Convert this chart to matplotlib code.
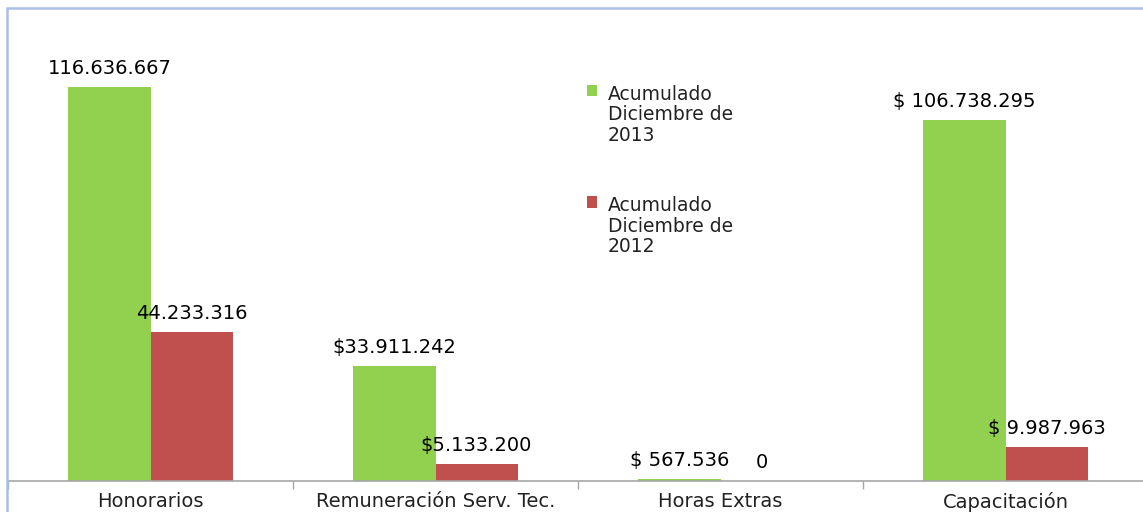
"""Acumulado diciembre 2013 vs 2012 por concepto: barras agrupadas."""

import matplotlib.pyplot as plt
import numpy as np
from matplotlib.patches import Rectangle

categories = ["Honorarios", "Remuneración Serv. Tec.", "Horas Extras", "Capacitación"]
values_2013 = [116636667, 33911242, 567536, 106738295]
values_2012 = [44233316, 5133200, 0, 9987963]
labels_2013 = ["116.636.667", "$33.911.242", "$ 567.536", "$ 106.738.295"]
labels_2012 = ["44.233.316", "$5.133.200", "0", "$ 9.987.963"]
series_names = ["Acumulado\nDiciembre de\n2013", "Acumulado\nDiciembre de\n2012"]

GREEN = "#92D050"
RED = "#C0504D"

W, H = 1143, 512
fig = plt.figure(figsize=(W / 100, H / 100), dpi=100)
ax = fig.add_axes([8 / W, 31 / H, 1140 / W, 473 / H])

x = np.arange(len(categories))
bw = 0.288
bars_a = ax.bar(x - bw, values_2013, width=bw, align="edge", color=GREEN,
                label=series_names[0], zorder=2)
bars_b = ax.bar(x, values_2012, width=bw, align="edge", color=RED,
                label=series_names[1], zorder=2)

label_font = dict(family="DejaVu Sans", fontsize=14, color="black")
for bars, labels in ((bars_a, labels_2013), (bars_b, labels_2012)):
    for rect, txt in zip(bars, labels):
        ax.annotate(txt, (rect.get_x() + rect.get_width() / 2, rect.get_height()),
                    xytext=(0, 9), textcoords="offset pixels",
                    ha="center", va="bottom", **label_font)

ax.set_xlim(-0.5, len(categories) - 0.5)
ax.set_ylim(0, 140e6)
ax.set_yticks([])
for side in ("left", "right", "top"):
    ax.spines[side].set_visible(False)
ax.spines["bottom"].set_color("#A6A6A6")
ax.spines["bottom"].set_linewidth(1.2)

ax.set_xticks(x)
ax.set_xticklabels(categories, family="DejaVu Sans", fontsize=14, color="#222222")
ax.tick_params(axis="x", which="major", length=0, pad=8)
ax.set_xticks(np.arange(len(categories) + 1) - 0.5, minor=True)
ax.tick_params(axis="x", which="minor", length=6, color="#A6A6A6", width=1)

leg = ax.legend(loc="upper left", bbox_to_anchor=(570 / W, 1 - 68 / H),
                bbox_transform=fig.transFigure, frameon=False,
                prop={"family": "DejaVu Sans", "size": 13.5},
                handlelength=0.55, handleheight=0.55, handletextpad=0.55,
                labelspacing=2.75)
for t in leg.get_texts():
    t.set_color("#222222")
    t.set_linespacing(1.1)
# put the colour square next to the first line of each entry
for col in leg._legend_handle_box.get_children():
    for row in col.get_children():
        row.align = "top"

# chart frame (light blue), partially cropped in the source image
fig.patches.append(Rectangle((7 / W, -0.2), 1.2, 1 - 8 / H + 0.2,
                             transform=fig.transFigure, fill=False,
                             edgecolor="#A9BFE6", linewidth=1.8))

fig.savefig("out.png", dpi=100)
